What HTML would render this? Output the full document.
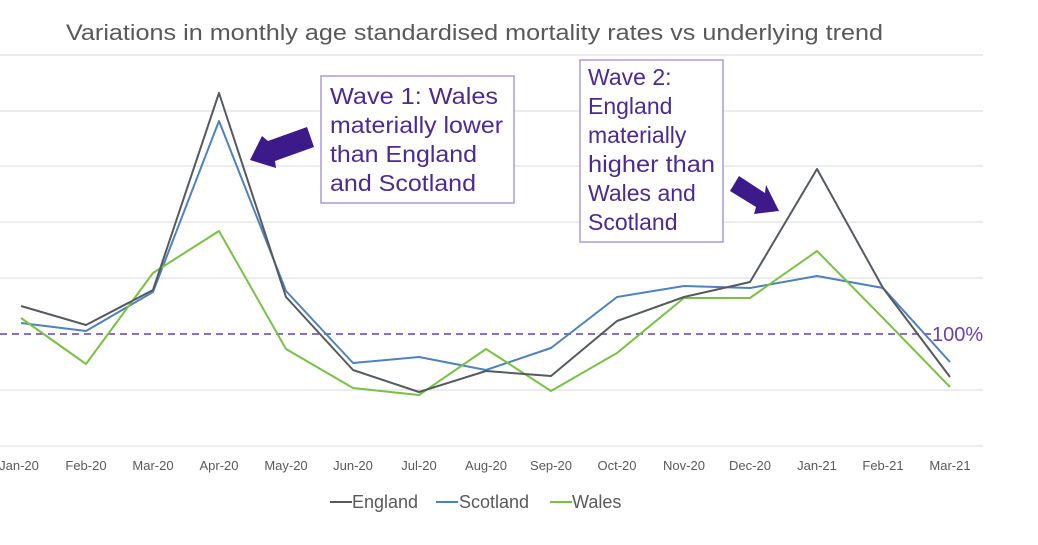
<!DOCTYPE html>
<html><head><style>
body{margin:0;background:#fff;}
svg text{font-family:"Liberation Sans",sans-serif;}
</style></head><body>
<svg width="1038" height="540" xmlns="http://www.w3.org/2000/svg">
<rect width="1038" height="540" fill="#fff"/>
<text x="66" y="40" font-size="22" fill="#595959" textLength="817" lengthAdjust="spacingAndGlyphs">Variations in monthly age standardised mortality rates vs underlying trend</text>
<g stroke="#e6e6e6" stroke-width="1.5">
<line x1="0" x2="983" y1="55" y2="55"/><line x1="0" x2="983" y1="111" y2="111"/>
<line x1="0" x2="983" y1="166" y2="166"/><line x1="0" x2="983" y1="222" y2="222"/>
<line x1="0" x2="983" y1="278" y2="278"/><line x1="0" x2="983" y1="390" y2="390"/>
<line x1="0" x2="983" y1="446" y2="446"/>
</g>
<line x1="0" x2="935" y1="334" y2="334" stroke="#7b5cb8" stroke-width="1.8" stroke-dasharray="7,5"/>
<text x="932" y="341" font-size="20" fill="#6a3fb0">100%</text>
<polyline fill="none" stroke="#4f81bd" stroke-width="2" stroke-linejoin="round" points="21,323 86,331 153,292 219,121 286,291 353,363 419,357 486,370 551,348 617,297 684,286 750,288 817,276 883,288 950,362"/>
<polyline fill="none" stroke="#7ac143" stroke-width="2" stroke-linejoin="round" points="21,318 86,364 153,273 219,231 286,349 353,388 419,395 486,349 551,391 617,353 684,298 750,298 817,251 883,318 950,387"/>
<polyline fill="none" stroke="#555a60" stroke-width="2" stroke-linejoin="round" points="21,306 86,325 153,290 219,93 286,297 353,370 419,392 486,371 551,376 617,321 684,297 750,282 817,169 883,288 950,377"/>
<g font-size="13" fill="#595959" text-anchor="middle">
<text x="19" y="470">Jan-20</text><text x="86" y="470">Feb-20</text><text x="153" y="470">Mar-20</text>
<text x="219" y="470">Apr-20</text><text x="286" y="470">May-20</text><text x="353" y="470">Jun-20</text>
<text x="419" y="470">Jul-20</text><text x="486" y="470">Aug-20</text><text x="551" y="470">Sep-20</text>
<text x="617" y="470">Oct-20</text><text x="684" y="470">Nov-20</text><text x="750" y="470">Dec-20</text>
<text x="817" y="470">Jan-21</text><text x="883" y="470">Feb-21</text><text x="950" y="470">Mar-21</text>
</g>
<g font-size="18" fill="#595959">
<line x1="330" x2="352" y1="502" y2="502" stroke="#555a60" stroke-width="2"/><text x="352" y="508">England</text>
<line x1="436" x2="458" y1="502" y2="502" stroke="#4f81bd" stroke-width="2"/><text x="459" y="508">Scotland</text>
<line x1="550" x2="572" y1="502" y2="502" stroke="#7ac143" stroke-width="2"/><text x="572" y="508">Wales</text>
</g>
<rect x="321" y="76" width="193" height="127" fill="#fff" stroke="#a89bd0" stroke-width="1.5"/>
<g font-size="23" fill="#4b2a91">
<text x="330" y="104" textLength="168" lengthAdjust="spacingAndGlyphs">Wave 1: Wales</text>
<text x="330" y="133" textLength="173" lengthAdjust="spacingAndGlyphs">materially lower</text>
<text x="330" y="162" textLength="147" lengthAdjust="spacingAndGlyphs">than England</text>
<text x="330" y="191" textLength="146" lengthAdjust="spacingAndGlyphs">and Scotland</text>
</g>
<rect x="580" y="60" width="143" height="182" fill="#fff" stroke="#a89bd0" stroke-width="1.5"/>
<g font-size="23" fill="#4b2a91">
<text x="588" y="85">Wave 2:</text><text x="588" y="114">England</text><text x="588" y="143">materially</text>
<text x="588" y="172" textLength="127" lengthAdjust="spacingAndGlyphs">higher than</text><text x="588" y="201">Wales and</text><text x="588" y="230">Scotland</text>
</g>
<polygon fill="#3d1a8a" points="250,160 262,136 268,141 307,127 314,147 275,161 276,168" />
<polygon fill="#3d1a8a" points="779,211 754,214 756,207 730,191 739,176 765,193 766,185"/>
</svg>
</body></html>
